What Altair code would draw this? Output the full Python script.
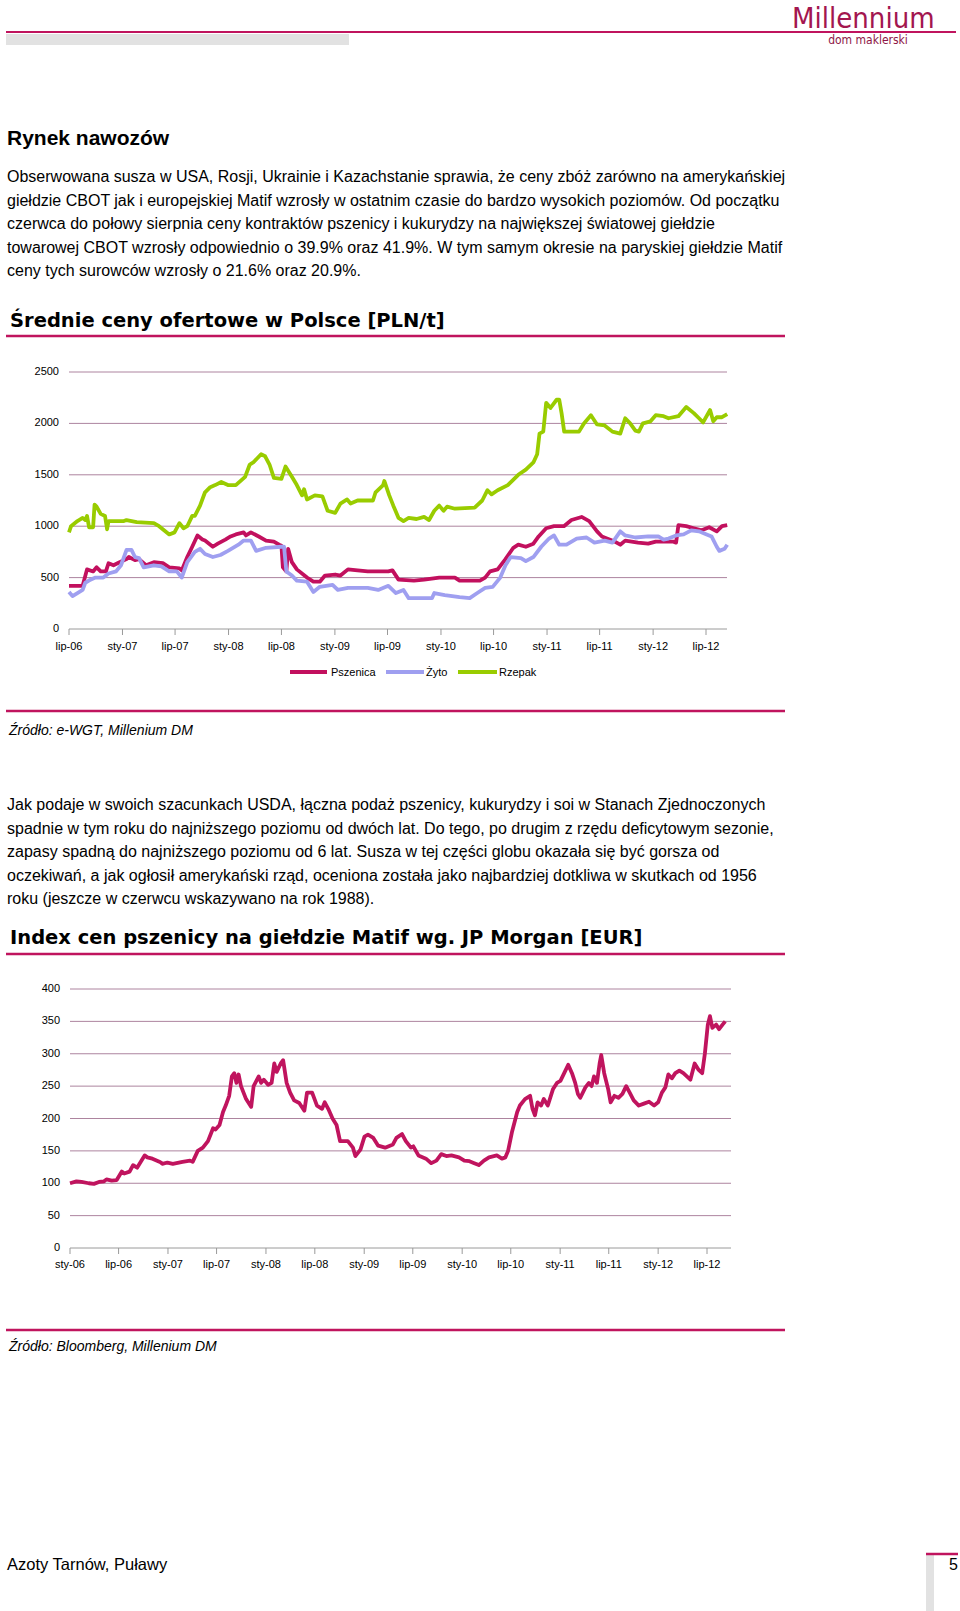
import altair as alt
import pandas as pd

# ---------------- data ----------------
pszenica = [("2006-07-01",420),("2006-08-17",420),("2006-09-01",580),("2006-09-22",560),("2006-10-04",600),("2006-10-18",560),("2006-11-05",560),("2006-11-14",640),("2006-12-01",620),("2006-12-22",650),("2007-01-15",680),("2007-01-23",700),("2007-02-13",670),("2007-02-27",680),("2007-03-23",620),("2007-04-19",650),("2007-05-20",640),("2007-06-11",600),("2007-07-16",590),("2007-07-24",570),("2007-08-12",700),("2007-08-29",800),("2007-09-16",910),("2007-10-03",870),("2007-10-12",860),("2007-11-08",800),("2007-11-25",830),("2007-12-21",870),("2008-01-08",900),("2008-01-26",920),("2008-02-22",940),("2008-03-01",910),("2008-03-18",940),("2008-04-14",900),("2008-05-09",860),("2008-06-05",850),("2008-06-23",820),("2008-07-01",810),("2008-07-06",600),("2008-07-18",560),("2008-07-24",780),("2008-08-06",650),("2008-08-23",580),("2008-09-27",500),("2008-10-19",460),("2008-11-10",460),("2008-11-28",520),("2009-01-02",530),("2009-01-20",520),("2009-02-15",580),("2009-03-20",570),("2009-04-24",560),("2009-07-04",560),("2009-07-18",570),("2009-08-08",480),("2009-09-30",470),("2009-11-04",480),("2009-12-26",500),("2010-02-18",500),("2010-03-06",470),("2010-05-15",470),("2010-06-02",500),("2010-06-19",560),("2010-07-15",580),("2010-08-11",680),("2010-09-07",790),("2010-09-24",820),("2010-10-20",800),("2010-11-15",830),("2010-12-03",900),("2010-12-29",980),("2011-01-25",1000),("2011-02-28",1000),("2011-03-26",1060),("2011-04-30",1090),("2011-05-26",1050),("2011-06-22",950),("2011-07-09",900),("2011-07-26",880),("2011-08-22",850),("2011-09-10",820),("2011-09-27",860),("2011-11-10",840),("2011-12-15",830),("2012-01-10",850),("2012-03-11",850),("2012-03-20",840),("2012-03-28",1010),("2012-04-24",1000),("2012-05-20",980),("2012-06-16",960),("2012-07-12",990),("2012-08-07",950),("2012-08-25",1000),("2012-09-12",1010)]

zyto = [("2006-07-01",360),("2006-07-13",320),("2006-07-30",350),("2006-08-17",380),("2006-08-26",450),("2006-09-13",480),("2006-09-30",500),("2006-10-27",500),("2006-11-14",540),("2006-12-10",560),("2006-12-27",620),("2007-01-15",770),("2007-02-01",770),("2007-02-13",700),("2007-02-27",690),("2007-03-15",600),("2007-04-19",620),("2007-05-15",610),("2007-06-11",560),("2007-07-07",560),("2007-07-24",500),("2007-08-12",650),("2007-09-07",750),("2007-09-25",780),("2007-10-12",730),("2007-11-08",700),("2007-12-04",720),("2007-12-30",760),("2008-02-04",820),("2008-02-22",860),("2008-03-18",860),("2008-04-05",760),("2008-05-09",790),("2008-07-01",800),("2008-07-10",800),("2008-07-18",560),("2008-08-06",520),("2008-08-23",470),("2008-09-27",460),("2008-10-19",360),("2008-11-10",410),("2008-12-24",430),("2009-01-11",380),("2009-02-15",400),("2009-04-24",400),("2009-05-30",380),("2009-07-04",420),("2009-07-30",350),("2009-08-25",380),("2009-09-12",300),("2009-10-17",300),("2009-12-01",300),("2009-12-09",350),("2010-01-14",330),("2010-03-06",310),("2010-04-10",300),("2010-05-06",350),("2010-06-02",400),("2010-06-28",410),("2010-07-24",500),("2010-08-11",620),("2010-08-29",700),("2010-10-03",690),("2010-10-20",660),("2010-11-15",700),("2010-12-12",800),("2011-01-08",880),("2011-01-25",910),("2011-02-12",820),("2011-03-09",820),("2011-04-13",880),("2011-05-17",890),("2011-06-13",840),("2011-07-18",860),("2011-08-14",840),("2011-09-10",950),("2011-09-27",910),("2011-11-01",890),("2011-12-15",900),("2012-01-19",900),("2012-02-06",870),("2012-02-23",880),("2012-03-20",910),("2012-04-15",920),("2012-05-11",960),("2012-06-07",950),("2012-06-25",930),("2012-07-20",900),("2012-08-07",800),("2012-08-16",760),("2012-09-03",780),("2012-09-12",820)]

rzepak = [("2006-07-01",940),("2006-07-08",1000),("2006-07-30",1050),("2006-08-17",1080),("2006-08-26",1060),("2006-09-01",1100),("2006-09-08",990),("2006-09-22",990),("2006-09-27",1210),("2006-10-04",1190),("2006-10-18",1120),("2006-11-02",1100),("2006-11-09",970),("2006-11-14",1050),("2007-01-06",1050),("2007-01-15",1060),("2007-02-19",1040),("2007-04-19",1030),("2007-05-07",1000),("2007-06-11",920),("2007-06-29",940),("2007-07-16",1030),("2007-07-30",980),("2007-08-12",1000),("2007-08-29",1100),("2007-09-07",1100),("2007-09-25",1200),("2007-10-12",1330),("2007-10-30",1380),("2007-11-16",1400),("2007-12-07",1430),("2007-12-30",1400),("2008-01-26",1400),("2008-02-27",1480),("2008-03-14",1600),("2008-03-26",1620),("2008-04-22",1700),("2008-05-06",1680),("2008-05-21",1600),("2008-06-05",1470),("2008-07-01",1460),("2008-07-15",1580),("2008-08-06",1480),("2008-08-23",1400),("2008-09-10",1300),("2008-09-17",1360),("2008-09-27",1260),("2008-10-24",1300),("2008-11-19",1290),("2008-12-07",1150),("2009-01-02",1130),("2009-01-20",1220),("2009-02-12",1260),("2009-02-24",1220),("2009-03-20",1250),("2009-05-12",1250),("2009-05-21",1330),("2009-06-16",1400),("2009-06-20",1440),("2009-07-07",1300),("2009-07-21",1200),("2009-08-08",1080),("2009-08-25",1050),("2009-09-12",1080),("2009-10-09",1070),("2009-11-04",1090),("2009-11-21",1060),("2009-12-09",1150),("2009-12-26",1200),("2010-01-10",1150),("2010-01-22",1190),("2010-02-18",1170),("2010-04-27",1180),("2010-05-23",1250),("2010-06-10",1350),("2010-06-24",1310),("2010-07-15",1350),("2010-08-19",1400),("2010-09-24",1500),("2010-10-20",1550),("2010-11-15",1620),("2010-11-28",1700),("2010-12-06",1900),("2010-12-19",1920),("2010-12-29",2200),("2011-01-13",2150),("2011-02-03",2230),("2011-02-12",2230),("2011-02-20",2100),("2011-03-01",1920),("2011-04-21",1920),("2011-05-08",2000),("2011-06-01",2080),("2011-06-22",1990),("2011-07-18",1980),("2011-08-14",1920),("2011-09-10",1900),("2011-09-27",2050),("2011-10-14",2000),("2011-11-01",1930),("2011-11-13",1920),("2011-11-27",2000),("2011-12-23",2020),("2012-01-10",2080),("2012-02-06",2070),("2012-02-23",2050),("2012-03-28",2070),("2012-04-24",2160),("2012-05-20",2100),("2012-06-07",2050),("2012-06-21",2010),("2012-07-15",2130),("2012-07-26",2020),("2012-08-07",2060),("2012-08-25",2060),("2012-09-12",2090)]

matif = [("2006-01-01",100),("2006-01-25",103),("2006-02-13",102),("2006-03-12",100),("2006-03-31",99),("2006-04-19",102),("2006-05-08",103),("2006-05-17",106),("2006-06-05",104),("2006-06-24",105),("2006-07-13",118),("2006-07-22",115),("2006-08-11",118),("2006-08-24",128),("2006-09-08",124),("2006-10-06",143),("2006-10-16",140),("2006-11-04",138),("2006-12-02",133),("2006-12-11",130),("2006-12-30",132),("2007-01-19",130),("2007-02-24",133),("2007-03-24",135),("2007-04-03",133),("2007-04-22",150),("2007-05-11",155),("2007-05-30",165),("2007-06-18",185),("2007-06-27",183),("2007-07-12",190),("2007-07-25",210),("2007-08-04",220),("2007-08-17",235),("2007-08-27",265),("2007-09-05",270),("2007-09-13",255),("2007-09-21",268),("2007-09-30",250),("2007-10-19",230),("2007-11-07",218),("2007-11-16",250),("2007-12-05",265),("2007-12-14",255),("2007-12-24",260),("2008-01-09",252),("2008-01-22",255),("2008-02-01",285),("2008-02-10",272),("2008-02-25",285),("2008-03-05",290),("2008-03-18",255),("2008-03-31",240),("2008-04-15",228),("2008-05-04",224),("2008-05-23",212),("2008-06-02",240),("2008-06-21",240),("2008-07-09",220),("2008-07-28",215),("2008-08-07",225),("2008-08-20",215),("2008-09-05",200),("2008-09-20",190),("2008-10-03",165),("2008-11-01",165),("2008-11-20",155),("2008-11-29",142),("2008-12-18",152),("2009-01-02",172),("2009-01-15",175),("2009-02-04",170),("2009-02-22",158),("2009-03-20",155),("2009-04-18",160),("2009-05-01",170),("2009-05-22",176),("2009-06-05",165),("2009-06-24",155),("2009-07-03",157),("2009-07-22",143),("2009-08-19",138),("2009-09-08",131),("2009-09-27",135),("2009-10-15",145),("2009-11-03",142),("2009-11-22",143),("2009-12-20",140),("2010-01-09",135),("2010-01-28",134),("2010-02-15",131),("2010-03-04",128),("2010-03-23",135),("2010-04-11",140),("2010-05-10",143),("2010-05-29",138),("2010-06-11",140),("2010-06-21",150),("2010-07-06",180),("2010-07-25",210),("2010-08-04",220),("2010-08-23",230),("2010-09-11",235),("2010-09-20",215),("2010-09-29",205),("2010-10-09",225),("2010-10-22",220),("2010-11-01",230),("2010-11-16",220),("2010-12-05",245),("2010-12-20",255),("2011-01-02",258),("2011-01-16",270),("2011-01-31",283),("2011-02-14",270),("2011-02-26",255),("2011-03-08",238),("2011-03-17",232),("2011-04-05",248),("2011-04-18",255),("2011-04-28",250),("2011-05-07",265),("2011-05-18",255),("2011-05-28",285),("2011-06-03",298),("2011-06-14",270),("2011-06-29",245),("2011-07-08",225),("2011-07-22",235),("2011-08-06",232),("2011-08-21",238),("2011-09-04",250),("2011-09-17",240),("2011-10-02",228),("2011-10-21",220),("2011-11-09",223),("2011-11-28",226),("2011-12-17",220),("2012-01-01",225),("2012-01-15",240),("2012-01-28",248),("2012-02-08",268),("2012-02-21",262),("2012-03-05",270),("2012-03-20",274),("2012-04-04",270),("2012-04-17",265),("2012-04-30",260),("2012-05-16",285),("2012-05-31",275),("2012-06-13",270),("2012-06-23",300),("2012-07-04",345),("2012-07-12",358),("2012-07-21",340),("2012-08-04",345),("2012-08-15",338),("2012-08-28",345),("2012-09-07",350)]

series_names = ["Pszenica", "Żyto", "Rzepak"]
series_colors = ["#c2105e", "#9f9ff0", "#99cc00"]

c1_y_ticks = [0, 500, 1000, 1500, 2000, 2500]
c1_x_dates = ["2006-07-01","2007-01-01","2007-07-01","2008-01-01","2008-07-01","2009-01-01","2009-07-01",
              "2010-01-01","2010-07-01","2011-01-01","2011-07-01","2012-01-01","2012-07-01"]
c1_x_labels = ["lip-06","sty-07","lip-07","sty-08","lip-08","sty-09","lip-09","sty-10","lip-10","sty-11","lip-11","sty-12","lip-12"]

c2_y_ticks = [0, 50, 100, 150, 200, 250, 300, 350, 400]
c2_x_dates = ["2006-01-01"] + c1_x_dates
c2_x_labels = ["sty-06"] + c1_x_labels

para1 = ["Obserwowana susza w USA, Rosji, Ukrainie i Kazachstanie sprawia, że ceny zbóż zarówno na amerykańskiej",
         "giełdzie CBOT jak i europejskiej Matif wzrosły w ostatnim czasie do bardzo wysokich poziomów. Od początku",
         "czerwca do połowy sierpnia ceny kontraktów pszenicy i kukurydzy na największej światowej giełdzie",
         "towarowej CBOT wzrosły odpowiednio o 39.9% oraz 41.9%. W tym samym okresie na paryskiej giełdzie Matif",
         "ceny tych surowców wzrosły o 21.6% oraz 20.9%."]
para2 = ["Jak podaje w swoich szacunkach USDA, łączna podaż pszenicy, kukurydzy i soi w Stanach Zjednoczonych",
         "spadnie w tym roku do najniższego poziomu od dwóch lat. Do tego, po drugim z rzędu deficytowym sezonie,",
         "zapasy spadną do najniższego poziomu od 6 lat. Susza w tej części globu okazała się być gorsza od",
         "oczekiwań, a jak ogłosił amerykański rząd, oceniona została jako najbardziej dotkliwa w skutkach od 1956",
         "roku (jeszcze w czerwcu wskazywano na rok 1988)."]

# ---------------- styles ----------------
MAG = "#c0145e"
GRID = "#ad849f"
AX = "#9a9a9a"
BODY = "Liberation Sans, Arial, sans-serif"
HEAD = "DejaVu Sans, sans-serif"
one = pd.DataFrame({"a": [0]})


def dt(y, m, d):
    return alt.DateTime(year=y, month=m, date=d, utc=True)


def text(txt, x, y, size=15, weight="normal", style="normal", color="#000", font=BODY, align="left", lh=None):
    kw = dict(text=txt, align=align, baseline="alphabetic", fontSize=size, fontWeight=weight,
              fontStyle=style, color=color, font=font)
    if lh is not None:
        kw["lineHeight"] = lh
    return alt.Chart(one).mark_text(**kw).encode(x=alt.value(x), y=alt.value(y))


def hrule(x1, x2, y, color=MAG, w=2.0):
    return alt.Chart(one).mark_rule(color=color, strokeWidth=w).encode(
        x=alt.value(x1), x2=alt.value(x2), y=alt.value(y))


def rect(x1, x2, y1, y2, color):
    return alt.Chart(one).mark_rect(color=color).encode(
        x=alt.value(x1), x2=alt.value(x2), y=alt.value(y1), y2=alt.value(y2))


static = [
    # header
    hrule(6, 956, 32, MAG, 2.2),
    rect(6, 349, 34, 45, "#e2e2e2"),
    text("Millennium", 792, 28, size=29, color="#a3164f",
         font="Liberation Sans Narrow, DejaVu Sans Condensed, Liberation Sans"),
    text("dom maklerski", 868, 44, size=12, color="#8e1646",
         font="Liberation Sans Narrow, DejaVu Sans Condensed, Liberation Sans", align="center"),
    # section
    text("Rynek nawozów", 7, 145, size=21, weight="bold"),
    text(para1, 7, 182, size=16, lh=23.6),
    text("Średnie ceny ofertowe w Polsce [PLN/t]", 10, 327, size=19.5, weight="bold", font=HEAD),
    hrule(6, 785, 336, MAG, 2.5),
    hrule(6, 785, 711, MAG, 2.5),
    text("Źródło: e-WGT, Millenium DM", 9, 735, size=14, style="italic"),
    text(para2, 7, 810, size=16, lh=23.6),
    text("Index cen pszenicy na giełdzie Matif wg. JP Morgan [EUR]", 10, 944, size=19.5, weight="bold", font=HEAD),
    hrule(6, 785, 954, MAG, 2.5),
    hrule(6, 785, 1330, MAG, 2.5),
    text("Źródło: Bloomberg, Millenium DM", 9, 1351, size=14, style="italic"),
    # footer
    rect(926, 934, 1555, 1611, "#e2e2e2"),
    hrule(926, 958, 1554, MAG, 2.5),
    text("Azoty Tarnów, Puławy", 7, 1570, size=16.5),
    text("5", 958, 1570, size=16, align="right"),
    # legend of chart 1
    hrule(290, 327, 672, series_colors[0], 4),
    text("Pszenica", 331, 676, size=11),
    hrule(386, 424, 672, series_colors[1], 4),
    text("Żyto", 426, 676, size=11),
    hrule(458, 497, 672, series_colors[2], 4),
    text("Rzepak", 499, 676, size=11),
]

# ---------------- chart 1 ----------------
xs1 = alt.Scale(domain=[dt(2006, 7, 1), dt(2012, 7, 1)], range=[69, 706])
ys1 = alt.Scale(domain=[0, 2500], range=[629, 372])

rows = []
for name, ser in zip(series_names, [pszenica, zyto, rzepak]):
    for d, v in ser:
        rows.append({"date": d, "value": v, "series": name})
df1 = pd.DataFrame(rows)

grid1 = alt.Chart(pd.DataFrame({"v": c1_y_ticks[1:]})).mark_rule(color=GRID, strokeWidth=1).encode(
    y=alt.Y("v:Q", scale=ys1, axis=None), x=alt.value(69), x2=alt.value(727))
base1 = alt.Chart(pd.DataFrame({"v": [0]})).mark_rule(color=AX, strokeWidth=1).encode(
    y=alt.Y("v:Q", scale=ys1, axis=None), x=alt.value(69), x2=alt.value(727))
ylab1 = alt.Chart(pd.DataFrame({"v": c1_y_ticks})).mark_text(
    align="right", baseline="middle", fontSize=11, font=BODY, color="#000").encode(
    y=alt.Y("v:Q", scale=ys1, axis=None), x=alt.value(59), text=alt.Text("v:Q", format="d"))
xdf1 = pd.DataFrame({"d": c1_x_dates, "l": c1_x_labels})
tick1 = alt.Chart(xdf1).mark_rule(color=AX, strokeWidth=1).encode(
    x=alt.X("d:T", scale=xs1, axis=None), y=alt.value(629), y2=alt.value(635))
xlab1 = alt.Chart(xdf1).mark_text(baseline="middle", fontSize=11, font=BODY, color="#000").encode(
    x=alt.X("d:T", scale=xs1, axis=None), y=alt.value(647), text="l:N")
lines1 = alt.Chart(df1).mark_line(strokeWidth=3.8, strokeJoin="round").encode(
    x=alt.X("date:T", scale=xs1, axis=None),
    y=alt.Y("value:Q", scale=ys1, axis=None),
    color=alt.Color("series:N", scale=alt.Scale(domain=series_names, range=series_colors), legend=None),
)
chart1 = alt.layer(grid1, base1, tick1, ylab1, xlab1, lines1)

# ---------------- chart 2 ----------------
xs2 = alt.Scale(domain=[dt(2006, 1, 1), dt(2012, 7, 1)], range=[70, 707])
ys2 = alt.Scale(domain=[0, 400], range=[1248, 989])
df2 = pd.DataFrame({"date": [d for d, _ in matif], "value": [v for _, v in matif]})

grid2 = alt.Chart(pd.DataFrame({"v": c2_y_ticks[1:]})).mark_rule(color=GRID, strokeWidth=1).encode(
    y=alt.Y("v:Q", scale=ys2, axis=None), x=alt.value(70), x2=alt.value(731))
base2 = alt.Chart(pd.DataFrame({"v": [0]})).mark_rule(color=AX, strokeWidth=1).encode(
    y=alt.Y("v:Q", scale=ys2, axis=None), x=alt.value(70), x2=alt.value(731))
ylab2 = alt.Chart(pd.DataFrame({"v": c2_y_ticks})).mark_text(
    align="right", baseline="middle", fontSize=11, font=BODY, color="#000").encode(
    y=alt.Y("v:Q", scale=ys2, axis=None), x=alt.value(60), text=alt.Text("v:Q", format="d"))
xdf2 = pd.DataFrame({"d": c2_x_dates, "l": c2_x_labels})
tick2 = alt.Chart(xdf2).mark_rule(color=AX, strokeWidth=1).encode(
    x=alt.X("d:T", scale=xs2, axis=None), y=alt.value(1248), y2=alt.value(1254))
xlab2 = alt.Chart(xdf2).mark_text(baseline="middle", fontSize=11, font=BODY, color="#000").encode(
    x=alt.X("d:T", scale=xs2, axis=None), y=alt.value(1265), text="l:N")
lines2 = alt.Chart(df2).mark_line(strokeWidth=3.8, strokeJoin="round", color=MAG).encode(
    x=alt.X("date:T", scale=xs2, axis=None),
    y=alt.Y("value:Q", scale=ys2, axis=None),
)
chart2 = alt.layer(grid2, base2, tick2, ylab2, xlab2, lines2)

chart = alt.layer(*static, chart1, chart2).resolve_scale(
    x="independent", y="independent"
).properties(
    width=960, height=1611, padding=0, background="white",
    autosize=alt.AutoSizeParams(type="none"),
).configure_view(stroke=None)

chart.save("out.html", embed_options={"renderer": "svg", "actions": False})
